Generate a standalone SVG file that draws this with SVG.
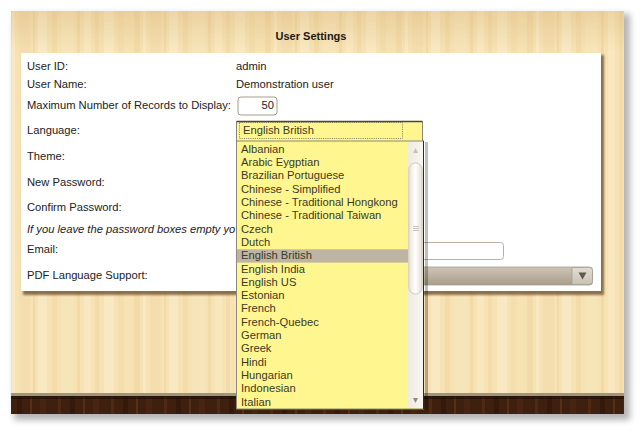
<svg xmlns="http://www.w3.org/2000/svg" width="643" height="434" viewBox="0 0 643 434">
<defs>
<style>
text{font-family:"Liberation Sans",Arial,sans-serif;font-size:11.2px;fill:#222}
.lbl{fill:#222}
.item{fill:#3b3a26}
.title{font-weight:bold;fill:#1a1a1a;font-size:11px}
</style>
<pattern id="wood" x="0" y="0" width="131" height="400" patternUnits="userSpaceOnUse">
<rect width="131" height="400" fill="#f6e2b3"/>
<rect x="3" width="6" height="400" fill="#edd39e" opacity="0.45"/>
<rect x="12" width="3" height="400" fill="#fcefd2" opacity="0.5"/>
<rect x="19" width="11" height="400" fill="#f0d7a5" opacity="0.35"/>
<rect x="33" width="2" height="400" fill="#e8cb93" opacity="0.35"/>
<rect x="38" width="9" height="400" fill="#fcf0d4" opacity="0.5"/>
<rect x="52" width="5" height="400" fill="#edd29b" opacity="0.4"/>
<rect x="61" width="13" height="400" fill="#f9e9c4" opacity="0.45"/>
<rect x="77" width="3" height="400" fill="#e9cc92" opacity="0.35"/>
<rect x="84" width="7" height="400" fill="#fbedcc" opacity="0.5"/>
<rect x="95" width="4" height="400" fill="#eed39d" opacity="0.4"/>
<rect x="104" width="10" height="400" fill="#fcf1d7" opacity="0.4"/>
<rect x="118" width="6" height="400" fill="#efd5a1" opacity="0.35"/>
</pattern>
<pattern id="dark" x="0" y="0" width="53" height="30" patternUnits="userSpaceOnUse">
<rect width="53" height="30" fill="#3f200f"/>
<rect x="5" width="3" height="30" fill="#4e2a15"/>
<rect x="17" width="5" height="30" fill="#351a0b"/>
<rect x="30" width="2" height="30" fill="#552f18"/>
<rect x="40" width="6" height="30" fill="#482512"/>
</pattern>
<linearGradient id="topShade" x1="0" y1="0" x2="0" y2="1">
<stop offset="0" stop-color="#c89a55" stop-opacity="0.25"/>
<stop offset="1" stop-color="#c89a55" stop-opacity="0"/>
</linearGradient>
<linearGradient id="pdfGrad" x1="0" y1="0" x2="0" y2="1">
<stop offset="0" stop-color="#cfc5b7"/>
<stop offset="1" stop-color="#a99d8b"/>
</linearGradient>
<linearGradient id="btnGrad" x1="0" y1="0" x2="0" y2="1">
<stop offset="0" stop-color="#e2ddd4"/>
<stop offset="1" stop-color="#c9c1b4"/>
</linearGradient>
<linearGradient id="thumbGrad" x1="0" y1="0" x2="1" y2="0">
<stop offset="0" stop-color="#e9e4da"/>
<stop offset="0.5" stop-color="#ffffff"/>
<stop offset="1" stop-color="#e3ddd0"/>
</linearGradient>
<linearGradient id="trackGrad" x1="0" y1="0" x2="1" y2="0">
<stop offset="0" stop-color="#efebe2"/>
<stop offset="1" stop-color="#f8f6f1"/>
</linearGradient>
<filter id="outerShadow" x="-5%" y="-5%" width="112%" height="115%">
<feGaussianBlur stdDeviation="3"/>
</filter>
<filter id="cardShadow" x="-5%" y="-5%" width="110%" height="115%">
<feGaussianBlur stdDeviation="1.2"/>
</filter>
</defs>

<g id="background">
<rect width="643" height="434" fill="#ffffff"/>
<rect x="14" y="14" width="616" height="406" fill="#777" opacity="0.55" filter="url(#outerShadow)"/>
<rect x="11" y="11" width="613" height="382" fill="url(#wood)"/>
<rect x="11" y="11" width="613" height="40" fill="url(#topShade)"/>
<rect x="11" y="393" width="613" height="3" fill="#9c957f"/>
<rect x="11" y="396" width="613" height="18" fill="url(#dark)"/>
<rect x="11" y="396" width="613" height="3" fill="#1e0d04" opacity="0.6"/>
</g>

<g id="title">
<text class="title" x="311" y="40" text-anchor="middle">User Settings</text>
</g>

<g id="card">
<rect x="23" y="55" width="581" height="240" fill="#6b4a25" opacity="0.75" filter="url(#cardShadow)"/>
<rect x="21" y="53" width="580" height="238" fill="#ffffff"/>
</g>

<g id="labels">
<text class="lbl" x="27" y="70">User ID:</text>
<text class="lbl" x="27" y="88">User Name:</text>
<text class="lbl" x="27" y="109">Maximum Number of Records to Display:</text>
<text class="lbl" x="27" y="134">Language:</text>
<text class="lbl" x="27" y="160">Theme:</text>
<text class="lbl" x="27" y="186">New Password:</text>
<text class="lbl" x="27" y="211">Confirm Password:</text>
<text class="lbl" x="27" y="233" font-style="italic">If you leave the password boxes empty yo</text>
<text class="lbl" x="27" y="253">Email:</text>
<text class="lbl" x="27" y="279">PDF Language Support:</text>
</g>

<g id="values">
<text x="236" y="70">admin</text>
<text x="236" y="88">Demonstration user</text>
</g>

<g id="maxRecords">
<rect x="238" y="97" width="39" height="18" rx="3" fill="#fff" stroke="#a59c8c" stroke-width="1"/>
<text x="274" y="109" text-anchor="end">50</text>
</g>

<g id="email">
<rect x="237.5" y="242.5" width="266" height="17" rx="3" fill="#fff" stroke="#b9b0a2" stroke-width="1"/>
</g>

<g id="pdfSupport">
<rect x="237.5" y="267" width="355" height="18" rx="3" fill="url(#pdfGrad)" stroke="#a89e8e" stroke-width="0.8"/>
<path d="M572 267.5 H589.5 a3 3 0 0 1 3 3 V281.5 a3 3 0 0 1 -3 3 H572 Z" fill="url(#btnGrad)" stroke="#a89e8e" stroke-width="0.8"/>
<path d="M578.5 272.5 h8 l-4 7 z" fill="#5e5850"/>
</g>

<g id="languageSelect">
<rect x="236" y="121" width="187" height="20" fill="#fff68f"/>
<path d="M236.5 141 V121.5 H422.5 V141" fill="none" stroke="#8a8576" stroke-width="1"/>
<path d="M236.5 121.5 H422.5" stroke="#4a463c" stroke-width="1.5"/>
<rect x="239.5" y="122.5" width="163" height="16" fill="none" stroke="#4a4a40" stroke-width="0.7" stroke-dasharray="1 1.2"/>
<text x="243" y="134" class="item">English British</text>
</g>

<g id="languageList">
<rect x="425" y="142" width="3" height="268" fill="#000" opacity="0.25"/>
<rect x="236" y="141" width="188" height="268" fill="#fff68f"/>
<rect x="236.5" y="249.3" width="171.5" height="13.3" fill="#bdb4a2"/>
<g class="items">
<text class="item" x="241" y="152.8">Albanian</text>
<text class="item" x="241" y="166.1">Arabic Eygptian</text>
<text class="item" x="241" y="179.4">Brazilian Portuguese</text>
<text class="item" x="241" y="192.7">Chinese - Simplified</text>
<text class="item" x="241" y="206">Chinese - Traditional Hongkong</text>
<text class="item" x="241" y="219.3">Chinese - Traditional Taiwan</text>
<text class="item" x="241" y="232.6">Czech</text>
<text class="item" x="241" y="245.9">Dutch</text>
<text class="item" x="241" y="259.2">English British</text>
<text class="item" x="241" y="272.5">English India</text>
<text class="item" x="241" y="285.8">English US</text>
<text class="item" x="241" y="299.1">Estonian</text>
<text class="item" x="241" y="312.4">French</text>
<text class="item" x="241" y="325.7">French-Quebec</text>
<text class="item" x="241" y="339">German</text>
<text class="item" x="241" y="352.3">Greek</text>
<text class="item" x="241" y="365.6">Hindi</text>
<text class="item" x="241" y="378.9">Hungarian</text>
<text class="item" x="241" y="392.2">Indonesian</text>
<text class="item" x="241" y="405.5">Italian</text>
</g>
<rect x="408" y="142" width="15" height="266" fill="url(#trackGrad)"/>
<path d="M413 153 l2.5 -5 l2.5 5 z" fill="#c8c2b6"/>
<rect x="408.8" y="163" width="13.4" height="131" rx="6.5" fill="url(#thumbGrad)" stroke="#cbc3b3" stroke-width="0.8"/>
<path d="M413 226.5 h6 M413 228.5 h6 M413 230.5 h6" stroke="#b5ad9f" stroke-width="0.7"/>
<path d="M413 398 l2.5 5 l2.5 -5 z" fill="#8f897e"/>
<rect x="236.5" y="141" width="187" height="268" fill="none" stroke="#8d8878" stroke-width="1"/>
<path d="M423.5 141 V409" stroke="#2c2a25" stroke-width="1"/>
</g>
</svg>
